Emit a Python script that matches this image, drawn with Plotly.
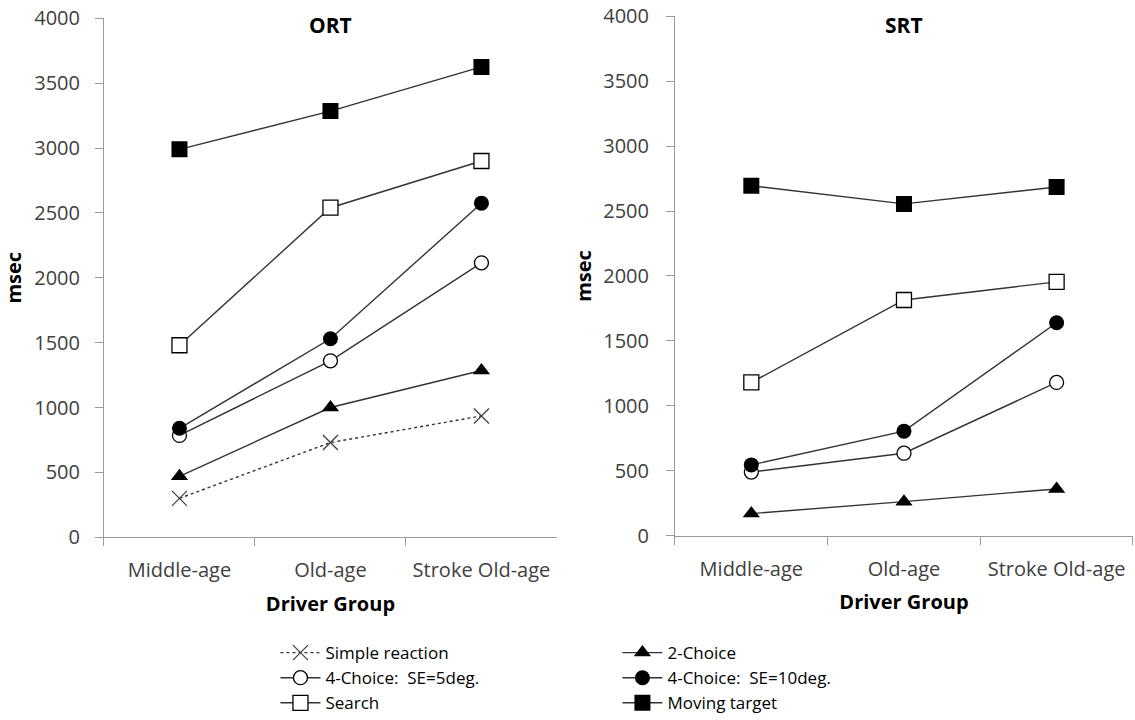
import plotly.graph_objects as go
from plotly.subplots import make_subplots

groups = ["Middle-age", "Old-age", "Stroke Old-age"]

ort_simple = [300, 730, 935]
ort_2choice = [470, 1000, 1285]
ort_4c5 = [785, 1360, 2115]
ort_4c10 = [840, 1530, 2575]
ort_search = [1480, 2540, 2900]
ort_moving = [2990, 3285, 3625]

srt_2choice = [170, 262, 360]
srt_4c5 = [490, 635, 1180]
srt_4c10 = [545, 805, 1640]
srt_search = [1180, 1815, 1955]
srt_moving = [2695, 2555, 2685]

series_names = ["Simple reaction", "2-Choice", "4-Choice:  SE=5deg.",
                "4-Choice:  SE=10deg.", "Search", "Moving target"]

LINE = "#333333"
styles = {
    "Simple reaction": dict(symbol="x-thin", size=15, color=LINE, line=dict(width=1.3, color="#404040")),
    "2-Choice": dict(symbol="triangle-up", size=15, color="black", line=dict(width=0)),
    "4-Choice:  SE=5deg.": dict(symbol="circle", size=14, color="white", line=dict(width=1.3, color="black")),
    "4-Choice:  SE=10deg.": dict(symbol="circle", size=15, color="black", line=dict(width=0)),
    "Search": dict(symbol="square", size=15, color="white", line=dict(width=1.3, color="black")),
    "Moving target": dict(symbol="square", size=16, color="black", line=dict(width=0)),
}
legend_of = {"Simple reaction": "legend", "4-Choice:  SE=5deg.": "legend", "Search": "legend",
             "2-Choice": "legend2", "4-Choice:  SE=10deg.": "legend2", "Moving target": "legend2"}

fig = make_subplots(rows=1, cols=2)

ort = {"Simple reaction": ort_simple, "2-Choice": ort_2choice, "4-Choice:  SE=5deg.": ort_4c5,
       "4-Choice:  SE=10deg.": ort_4c10, "Search": ort_search, "Moving target": ort_moving}
srt = {"2-Choice": srt_2choice, "4-Choice:  SE=5deg.": srt_4c5,
       "4-Choice:  SE=10deg.": srt_4c10, "Search": srt_search, "Moving target": srt_moving}

for name in series_names:
    dash = "dot" if name == "Simple reaction" else "solid"
    fig.add_trace(go.Scatter(x=groups, y=ort[name], mode="lines+markers", name=name,
                             line=dict(color=LINE, width=1.4, dash=dash),
                             marker=styles[name], legend=legend_of[name], showlegend=True),
                  row=1, col=1)
    if name in srt:
        fig.add_trace(go.Scatter(x=groups, y=srt[name], mode="lines+markers", name=name,
                                 line=dict(color=LINE, width=1.4, dash=dash),
                                 marker=styles[name], showlegend=False),
                      row=1, col=2)

axfont = dict(family="Open Sans", size=20, color="#404040")
titlefont = dict(family="Open Sans", size=20, color="black", weight="bold")

panels = [((0.0916, 0.4907), (0.2538, 0.9746), 11, 10), ((0.5947, 0.9982), (0.2560, 0.9774), 13, 6)]
for i, (dom, ydom, ystand, ytstand) in enumerate(panels, start=1):
    xa = "xaxis" if i == 1 else "xaxis2"
    ya = "yaxis" if i == 1 else "yaxis2"
    fig.layout[xa].update(domain=list(dom), type="category", range=[-0.5, 2.5],
                          showline=True, linecolor="#9a9a9a", linewidth=1,
                          ticks="outside", tickson="boundaries", ticklen=8, tickcolor="#9a9a9a",
                          showgrid=False, zeroline=False, tickfont=axfont, automargin=False,
                          ticklabelstandoff=15, ticklabeloverflow="allow",
                          title=dict(text="Driver Group", font=titlefont, standoff=14))
    fig.layout[ya].update(domain=list(ydom), range=[0, 4000], dtick=500,
                          showline=True, linecolor="#9a9a9a", linewidth=1,
                          ticks="outside", ticklen=8, tickcolor="#9a9a9a",
                          showgrid=False, zeroline=False, tickfont=axfont, automargin=True,
                          ticklabelstandoff=ystand, ticklabeloverflow="allow",
                          title=dict(text="msec", font=titlefont, standoff=ytstand))

fig.add_annotation(text="<b>ORT</b>", x=0.5, y=3948, xref="x domain", yref="y", showarrow=False,
                   font=dict(family="Open Sans", size=21, color="black"))
fig.add_annotation(text="<b>SRT</b>", x=0.5, y=3933, xref="x2 domain", yref="y2", showarrow=False,
                   font=dict(family="Open Sans", size=21, color="black"))

legfont = dict(family="Open Sans", size=17, color="black")
fig.update_layout(
    width=1135, height=720,
    margin=dict(l=0, r=0, t=0, b=0, autoexpand=False),
    paper_bgcolor="white", plot_bgcolor="white",
    legend=dict(x=0.2427, y=0.118, xanchor="left", yanchor="top", font=legfont,
                bgcolor="rgba(0,0,0,0)", tracegroupgap=0, itemwidth=40),
    legend2=dict(x=0.544, y=0.118, xanchor="left", yanchor="top", font=legfont,
                 bgcolor="rgba(0,0,0,0)", tracegroupgap=0, itemwidth=40),
)

fig.write_html("out.html", config={"displayModeBar": False},
               post_script="document.body.style.margin='0px';")
